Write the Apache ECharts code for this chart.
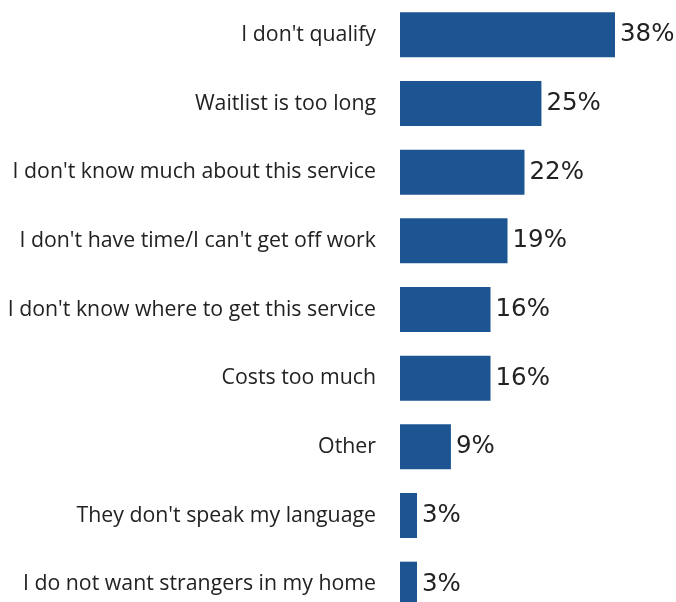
<!DOCTYPE html>
<html>
<head>
<meta charset="utf-8">
<script src="https://cdn.jsdelivr.net/npm/echarts@6/dist/echarts.min.js"></script>
<style>html,body{margin:0;padding:0;background:#fff}#c{width:676px;height:602px}</style>
</head>
<body>
<div id="c"></div>
<script>
const categories = [
  "I don't qualify",
  "Waitlist is too long",
  "I don't know much about this service",
  "I don't have time/I can't get off work",
  "I don't know where to get this service",
  "Costs too much",
  "Other",
  "They don't speak my language",
  "I do not want strangers in my home"
];
const values = [38, 25, 22, 19, 16, 16, 9, 3, 3];

const chart = echarts.init(document.getElementById('c'));
chart.setOption({
  animation: false,
  grid: { left: 400, top: 0.5, width: 215, height: 618, containLabel: false, outerBoundsMode: 'none' },
  xAxis: { type: 'value', min: 0, max: 38, show: false },
  yAxis: {
    type: 'category', data: categories, inverse: true,
    axisLine: { show: false }, axisTick: { show: false },
    axisLabel: { margin: 24, fontFamily: 'Open Sans', fontSize: 21.3, color: '#222' }
  },
  series: [{
    type: 'bar', data: values, barWidth: 45,
    itemStyle: { color: '#1c5592' },
    label: { show: true, position: 'right', distance: 5, formatter: '{c}%',
             fontFamily: 'DejaVu Sans', fontSize: 24.5, color: '#222' }
  }]
});
</script>
</body>
</html>
